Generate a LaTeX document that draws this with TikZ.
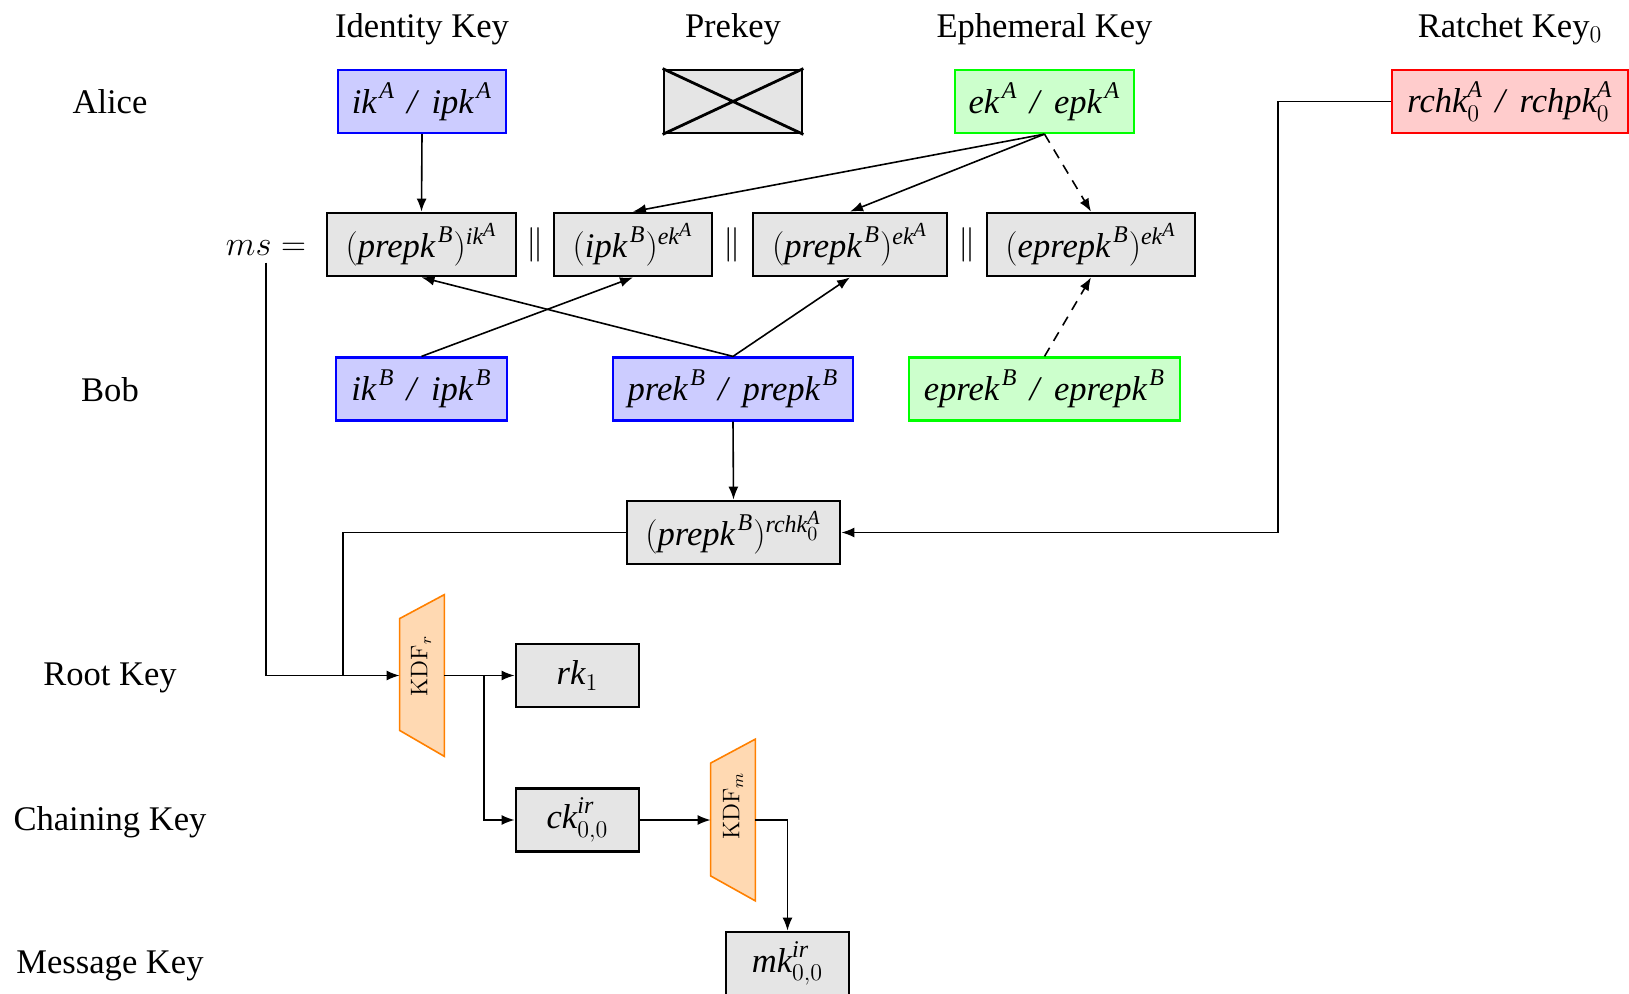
\documentclass[tikz,border=0pt]{standalone}
\usepackage{amsmath}
\usepackage[no-math]{fontspec}
\setmainfont{Liberation Serif}
\usetikzlibrary{arrows.meta,calc}

% italic key names and a key-pair separator
\newcommand\tv[1]{\textit{#1}}
\newcommand\kp[1]{^{\mkern2mu\tv{#1}}}
\newcommand\pairsep{\hspace{0.35em}\textit{/}\hspace{0.35em}}

\begin{document}
\begin{tikzpicture}[x=0.5pt,y=-0.5pt,
  font=\LARGE,
  keybox/.style={draw, line width=1.1pt, minimum height=31.5pt, inner sep=0pt, anchor=center},
  blue key/.style={keybox, draw=blue, fill=blue!20},
  green key/.style={keybox, draw=green, fill=green!20},
  red key/.style={keybox, draw=red, fill=red!20},
  part/.style={keybox, draw=black, fill=black!10, line width=1.4pt},
  conn/.style={line width=0.8pt, -{Latex[length=6.5pt,width=5pt]}},
  link/.style={line width=0.8pt},
  dconn/.style={conn, dash pattern=on 5pt off 4pt},
  kdf/.style={draw=orange, fill=orange!30, line width=0.8pt},
  kdfarea/.style={minimum width=22pt, minimum height=80.5pt, inner sep=0pt},
  kdflabel/.style={rotate=90, font=\large, inner sep=0pt},
]
\useasboundingbox (0,0) rectangle (1629,994);

% column headers
\node (hId)  at (422,29)  {Identity Key};
\node (hPre) at (733,29)  {Prekey};
\node (hEph) at (1044.5,29) {Ephemeral Key};
\node (hRat) at (1510,29) {Ratchet Key$_0$};

% row labels
\node (lAlice) at (110,102) {Alice};
\node (lBob)   at (110,390) {Bob};
\node (lRoot)  at (110,678) {Root Key};
\node (lChain) at (110,822) {Chaining Key};
\node (lMsg)   at (110,966) {Message Key};

% Alice's keys
\node[blue key, minimum width=84pt] (ikA) at (422,101.5)
  {$\tv{ik}\kp{A}$\pairsep$\tv{ipk}\kp{A}$};
\node[part, minimum width=69pt] (pre) at (733,101.5) {};
\draw[line width=1.4pt] (pre.north west) -- (pre.south east)
                        (pre.north east) -- (pre.south west);
\node[green key, minimum width=89.5pt] (ekA) at (1044.5,101.5)
  {$\tv{ek}\kp{A}$\pairsep$\tv{epk}\kp{A}$};
\node[red key, minimum width=118pt] (rchk) at (1510,101.5)
  {$\tv{rchk}^{\tv{A}}_{0}$\pairsep$\tv{rchpk}^{\tv{A}}_{0}$};

% master secret
\node (ms) at (266,248) {$ms =$};
\node[part, minimum width=94.5pt] (b1) at (421.5,244.5)
  {$(\tv{prepk}\kp{B})^{\tv{ik}^{\tv{A}}}$};
\node (s1) at (535,244.5) {$\|$};
\node[part, minimum width=79pt] (b2) at (633,244.5)
  {$(\tv{ipk}\kp{B})^{\tv{ek}^{\tv{A}}}$};
\node (s2) at (732.5,244.5) {$\|$};
\node[part, minimum width=97pt] (b3) at (850,244.5)
  {$(\tv{prepk}\kp{B})^{\tv{ek}^{\tv{A}}}$};
\node (s3) at (967,244.5) {$\|$};
\node[part, minimum width=104pt] (b4) at (1091,244.5)
  {$(\tv{eprepk}\kp{B})^{\tv{ek}^{\tv{A}}}$};

% Bob's keys
\node[blue key, minimum width=85.5pt] (ikB) at (421.5,389)
  {$\tv{ik}\kp{B}$\pairsep$\tv{ipk}\kp{B}$};
\node[blue key, minimum width=120pt] (prekB) at (733,389)
  {$\tv{prek}\kp{B}$\pairsep$\tv{prepk}\kp{B}$};
\node[green key, minimum width=135.5pt] (eprekB) at (1044.5,389)
  {$\tv{eprek}\kp{B}$\pairsep$\tv{eprepk}\kp{B}$};

% ratchet exchange
\node[part, minimum width=106.5pt] (r4) at (733.5,532.5)
  {$(\tv{prepk}\kp{B})^{\tv{rchk}^{\tv{A}}_{0}}$};

% key derivation chain
\node[kdfarea] (kdfr) at (422,675.5) {};
\draw[kdf] ($(kdfr.north west)+(0,24)$) -- (kdfr.north east) -- (kdfr.south east)
  -- ($(kdfr.south west)+(0,-26)$) -- cycle;
\node[kdflabel] (kdfrtext) at (421,666) {$\mathrm{KDF}_r$};

\node[part, minimum width=61.5pt] (rk1) at (577.5,675.5) {$\tv{rk}_1$};
\node[part, minimum width=61.5pt] (ck) at (577.5,820) {$\tv{ck}^{\tv{ir}}_{0,0}$};

\node[kdfarea] (kdfm) at (733,820) {};
\draw[kdf] ($(kdfm.north west)+(0,24)$) -- (kdfm.north east) -- (kdfm.south east)
  -- ($(kdfm.south west)+(0,-25)$) -- cycle;
\node[kdflabel] (kdfmtext) at (733,806) {$\mathrm{KDF}_m$};

\node[part, minimum width=61.5pt] (mk) at (787.5,963.5) {$\tv{mk}^{\tv{ir}}_{0,0}$};

% connectors
\draw[conn] (ikA.south) -- (b1.north);
\draw[conn] (ekA.south) -- (b2.north);
\draw[conn] (ekA.south) -- (b3.north);
\draw[dconn] (ekA.south) -- (b4.north);
\draw[conn] (ikB.north) -- (b2.south);
\draw[conn] (prekB.north) -- (b1.south);
\draw[conn] (prekB.north) -- (b3.south);
\draw[dconn] (eprekB.north) -- (b4.south);
\draw[conn] (prekB.south) -- (r4.north);

\coordinate (rturn) at (1278,101.5);
\draw[conn] (rchk.west) -- (rturn) |- (r4.east);

\coordinate (mjoin) at (343,675.5);
\draw[link] (r4.west) -| (mjoin);
\draw[conn] (ms.south) |- (kdfr.west);

\draw[conn] (kdfr.east) -- (rk1.west);
\coordinate (rsplit) at (484,675.5);
\draw[conn] (rsplit) |- (ck.west);
\draw[conn] (ck.east) -- (kdfm.west);
\draw[conn] (kdfm.east) -| (mk.north);
\end{tikzpicture}
\end{document}
